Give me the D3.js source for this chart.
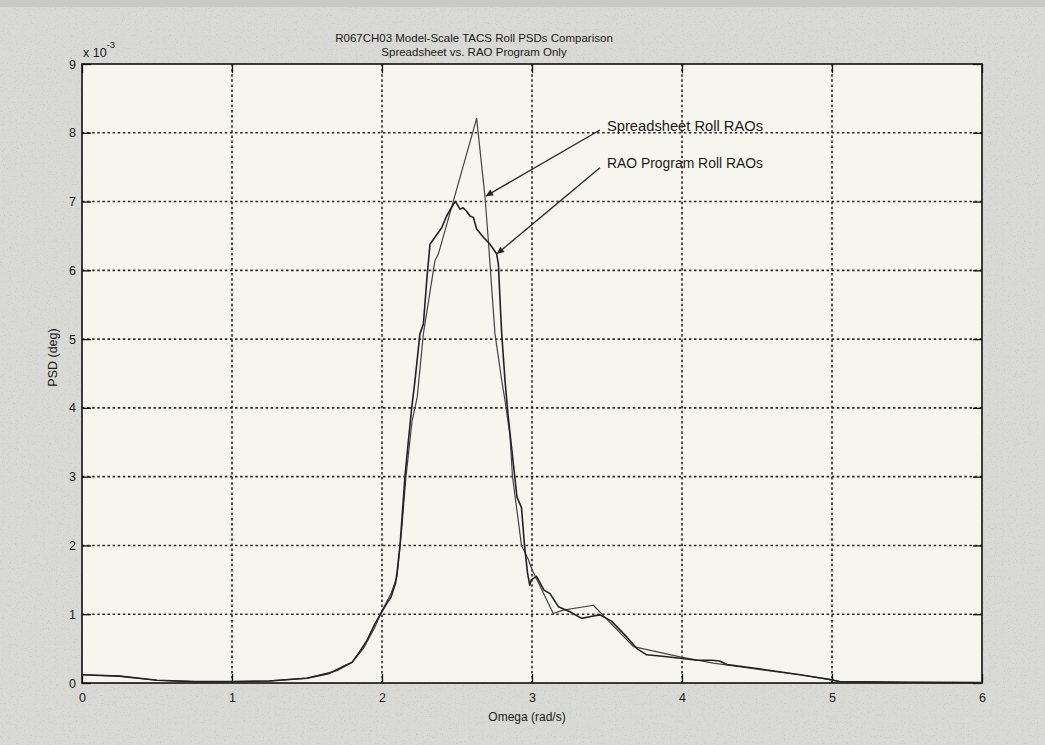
<!DOCTYPE html>
<html>
<head>
<meta charset="utf-8">
<script src="https://cdn.jsdelivr.net/npm/d3@7/dist/d3.min.js"></script>
<style>
  html, body { margin: 0; padding: 0; background: #d8d8d4; }
  svg { display: block; }
  text { font-family: "Liberation Sans", Arial, sans-serif; fill: #1a1a1a; }
</style>
</head>
<body>
<svg id="chart" width="1045" height="745"></svg>
<script>
// Roll PSD curves, omega in rad/s, PSD in units of 1e-3 deg
const spreadsheetOmega = [0, 0.25, 0.5, 0.75, 1.0, 1.25, 1.5, 1.7, 1.8, 1.875, 1.95, 2.0, 2.06, 2.1, 2.13, 2.16, 2.2, 2.235, 2.276, 2.353, 2.376, 2.476, 2.631, 2.687, 2.709, 2.753, 2.798, 2.82, 2.853, 2.87, 2.93, 2.975, 3.0, 3.142, 3.209, 3.409, 3.676, 3.987, 4.209, 4.5, 4.787, 4.987, 5.05, 5.5, 6.0];
const spreadsheetPSD   = [0.12, 0.10, 0.04, 0.02, 0.02, 0.03, 0.07, 0.18, 0.30, 0.50, 0.80, 1.05, 1.30, 1.55, 2.2, 3.0, 3.8, 4.16, 5.08, 6.14, 6.24, 7.01, 8.21, 7.06, 6.43, 5.08, 4.4, 4.11, 3.6, 3.0, 2.0, 1.8, 1.65, 1.01, 1.06, 1.13, 0.53, 0.38, 0.29, 0.20, 0.12, 0.05, 0.02, 0.01, 0.005];

const raoOmega = [0, 0.25, 0.5, 0.75, 1.0, 1.25, 1.5, 1.65, 1.75, 1.8, 1.85, 1.9, 1.95, 1.99, 2.03, 2.06, 2.09, 2.1, 2.12, 2.14, 2.153, 2.175, 2.198, 2.22, 2.253, 2.276, 2.3, 2.32, 2.353, 2.398, 2.431, 2.476, 2.49, 2.52, 2.54, 2.564, 2.587, 2.609, 2.631, 2.676, 2.72, 2.764, 2.776, 2.787, 2.798, 2.82, 2.84, 2.86, 2.9, 2.93, 2.95, 2.97, 2.985, 2.995, 3.03, 3.08, 3.12, 3.176, 3.253, 3.331, 3.4, 3.453, 3.53, 3.631, 3.7, 3.764, 3.87, 3.987, 4.1, 4.2, 4.25, 4.3, 4.5, 4.787, 4.987, 5.05, 5.5, 6.0];
const raoPSD   = [0.12, 0.10, 0.04, 0.02, 0.02, 0.03, 0.07, 0.14, 0.25, 0.30, 0.45, 0.62, 0.85, 1.0, 1.15, 1.25, 1.45, 1.6, 2.0, 2.6, 3.0, 3.5, 4.0, 4.4, 5.08, 5.22, 5.9, 6.38, 6.48, 6.62, 6.79, 6.96, 7.0, 6.89, 6.91, 6.86, 6.79, 6.77, 6.6, 6.48, 6.38, 6.24, 6.09, 5.56, 5.08, 4.4, 3.9, 3.5, 2.7, 2.55, 2.0, 1.6, 1.42, 1.5, 1.55, 1.35, 1.3, 1.11, 1.035, 0.94, 0.97, 0.99, 0.9, 0.67, 0.5, 0.41, 0.39, 0.36, 0.33, 0.33, 0.32, 0.27, 0.21, 0.12, 0.05, 0.02, 0.01, 0.005];

const xTicks = [0, 1, 2, 3, 4, 5, 6];
const yTicks = [0, 1, 2, 3, 4, 5, 6, 7, 8, 9];

const titleLines = ["R067CH03 Model-Scale TACS Roll PSDs Comparison", "Spreadsheet vs. RAO Program Only"];

// Callout labels with their arrow tails and heads, in data units
const callouts = [
  { label: "Spreadsheet Roll RAOs", textAt: [3.5, 8.1],  from: [3.453, 8.04], to: [2.693, 7.08] },
  { label: "RAO Program Roll RAOs", textAt: [3.5, 7.56], from: [3.453, 7.49], to: [2.767, 6.24] }
];

const svg = d3.select("#chart");
const W = 1045, H = 745;
const plot = { left: 82, right: 982, top: 64, bottom: 683 };

const x = d3.scaleLinear().domain([0, 6]).range([plot.left, plot.right]);
const y = d3.scaleLinear().domain([0, 9]).range([plot.bottom, plot.top]);

const defs = svg.append("defs");

// speckled paper grain for the surround
const grain = defs.append("filter").attr("id", "grain").attr("x", 0).attr("y", 0).attr("width", "100%").attr("height", "100%");
grain.append("feTurbulence").attr("type", "fractalNoise").attr("baseFrequency", 0.85).attr("numOctaves", 2).attr("seed", 7).attr("result", "n");
grain.append("feColorMatrix").attr("in", "n").attr("type", "matrix")
  .attr("values", "0 0 0 0 0.45  0 0 0 0 0.45  0 0 0 0 0.44  3.2 0 0 0 -1.85");

const arrowHead = defs.append("marker").attr("id", "arrow")
  .attr("viewBox", "0 0 10 10").attr("refX", 10).attr("refY", 5)
  .attr("markerWidth", 10).attr("markerHeight", 7).attr("markerUnits", "userSpaceOnUse")
  .attr("orient", "auto");
arrowHead.append("path").attr("d", "M0,0 L10,5 L0,10 Z").attr("fill", "#222");

svg.append("rect").attr("width", W).attr("height", H).attr("fill", "#d9d9d5");
svg.append("rect").attr("width", W).attr("height", H).attr("filter", "url(#grain)").attr("opacity", 0.55);
svg.append("rect").attr("width", W).attr("height", 7).attr("fill", "#c9c9c5");

// plot face
svg.append("rect")
  .attr("x", plot.left).attr("y", plot.top)
  .attr("width", plot.right - plot.left).attr("height", plot.bottom - plot.top)
  .attr("fill", "#f6f6ee");

// dotted grid
const grid = svg.append("g").attr("stroke", "#2a2a2a").attr("stroke-width", 1.6).attr("stroke-dasharray", "2.5,2.6");
grid.selectAll(".gx").data(xTicks.slice(1, -1)).join("line")
  .attr("x1", d => x(d)).attr("x2", d => x(d)).attr("y1", plot.top).attr("y2", plot.bottom);
grid.selectAll(".gy").data(yTicks.slice(1, -1)).join("line")
  .attr("y1", d => y(d)).attr("y2", d => y(d)).attr("x1", plot.left).attr("x2", plot.right);

// axes with inward ticks, box style
const tick = 9;
const styleAxis = g => {
  g.select(".domain").remove();
  g.selectAll(".tick line").attr("stroke", "#111").attr("stroke-width", 1.3);
  g.selectAll(".tick text").attr("font-size", 12.5).attr("fill", "#1a1a1a");
};
svg.append("g").attr("transform", `translate(0,${plot.bottom})`)
  .call(d3.axisBottom(x).tickValues(xTicks).tickFormat(d3.format("d")).tickSizeInner(-tick).tickSizeOuter(0).tickPadding(10))
  .call(styleAxis);
svg.append("g").attr("transform", `translate(0,${plot.top})`)
  .call(d3.axisTop(x).tickValues(xTicks).tickFormat("").tickSizeInner(-tick).tickSizeOuter(0))
  .call(styleAxis);
svg.append("g").attr("transform", `translate(${plot.left},0)`)
  .call(d3.axisLeft(y).tickValues(yTicks).tickFormat(d3.format("d")).tickSizeInner(-tick).tickSizeOuter(0).tickPadding(6))
  .call(styleAxis);
svg.append("g").attr("transform", `translate(${plot.right},0)`)
  .call(d3.axisRight(y).tickValues(yTicks).tickFormat("").tickSizeInner(-tick).tickSizeOuter(0))
  .call(styleAxis);

// frame
svg.append("rect")
  .attr("x", plot.left).attr("y", plot.top)
  .attr("width", plot.right - plot.left).attr("height", plot.bottom - plot.top)
  .attr("fill", "none").attr("stroke", "#111").attr("stroke-width", 1.6);

// curves
const line = d3.line().x(d => x(d[0])).y(d => y(d[1]));
const ssData = spreadsheetOmega.map((w, i) => [w, spreadsheetPSD[i]]);
const raoData = raoOmega.map((w, i) => [w, raoPSD[i]]);

svg.append("path").datum(ssData).attr("d", line)
  .attr("fill", "none").attr("stroke", "#444").attr("stroke-width", 1.2).attr("stroke-linejoin", "round");
svg.append("path").datum(raoData).attr("d", line)
  .attr("fill", "none").attr("stroke", "#222").attr("stroke-width", 1.6).attr("stroke-linejoin", "round");

// callouts
callouts.forEach(c => {
  svg.append("line")
    .attr("x1", x(c.from[0])).attr("y1", y(c.from[1]))
    .attr("x2", x(c.to[0])).attr("y2", y(c.to[1]))
    .attr("stroke", "#222").attr("stroke-width", 1.3).attr("marker-end", "url(#arrow)");
  svg.append("text")
    .attr("x", x(c.textAt[0])).attr("y", y(c.textAt[1]))
    .attr("dy", "0.35em").attr("font-size", 14).attr("textLength", 156).attr("lengthAdjust", "spacingAndGlyphs")
    .text(c.label);
});

// titles
svg.selectAll(".title").data(titleLines).join("text")
  .attr("x", 474).attr("y", (d, i) => 42 + i * 14)
  .attr("text-anchor", "middle").attr("font-size", 11.5)
  .text(d => d);

// exponent label
const ex = svg.append("text").attr("x", plot.left + 1).attr("y", 57).attr("font-size", 12.5);
ex.append("tspan").text("x 10");
ex.append("tspan").attr("dy", -9).attr("font-size", 9.5).text("-3");

// axis titles
svg.append("text")
  .attr("x", (plot.left + plot.right) / 2 - 5).attr("y", 721)
  .attr("text-anchor", "middle").attr("font-size", 12)
  .text("Omega (rad/s)");
svg.append("text")
  .attr("transform", `translate(57,${(plot.top + plot.bottom) / 2 - 16}) rotate(-90)`)
  .attr("text-anchor", "middle").attr("font-size", 12.5)
  .text("PSD (deg)");
</script>
</body>
</html>
